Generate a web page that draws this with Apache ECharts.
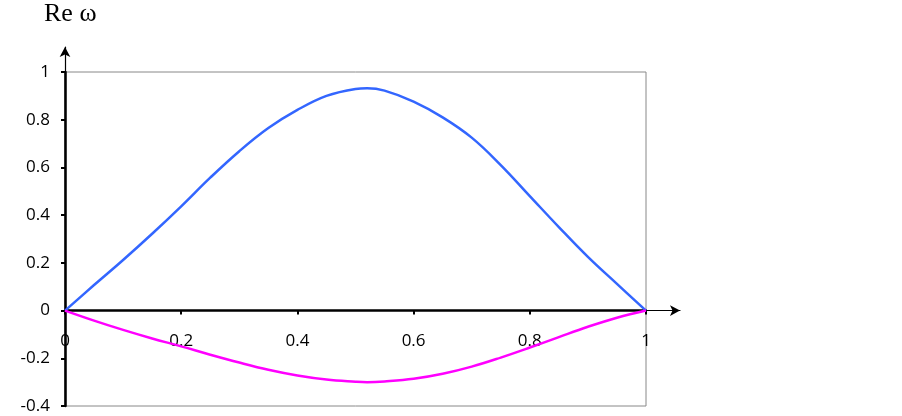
<!DOCTYPE html>
<html>
<head>
<meta charset="utf-8">
<script src="https://cdn.jsdelivr.net/npm/echarts@6/dist/echarts.min.js"></script>
<style>
html,body{margin:0;padding:0;background:#fff;}
#c{width:902px;height:416px;}
</style>
</head>
<body>
<div id="c"></div>
<script>
var xs = [0, 0.05, 0.1, 0.15, 0.2, 0.25, 0.3, 0.35, 0.4, 0.45, 0.5, 0.52, 0.55, 0.6, 0.65, 0.7, 0.75, 0.8, 0.85, 0.9, 0.95, 1];
var upperCurve = [0, 0.107, 0.212, 0.322, 0.437, 0.557, 0.668, 0.765, 0.841, 0.900, 0.929, 0.932, 0.922, 0.876, 0.810, 0.725, 0.610, 0.480, 0.350, 0.225, 0.112, 0];
var lowerCurve = [0, -0.042, -0.081, -0.117, -0.150, -0.185, -0.218, -0.248, -0.272, -0.289, -0.298, -0.300, -0.297, -0.286, -0.265, -0.235, -0.197, -0.155, -0.111, -0.068, -0.030, 0];
var xTicks = [0, 0.2, 0.4, 0.6, 0.8, 1];
var yTicks = [-0.4, -0.2, 0, 0.2, 0.4, 0.6, 0.8, 1];
var titleText = 'Re \u03C9';

function pairs(ys) { return xs.map(function (x, i) { return [x, ys[i]]; }); }

var labelFont = { fontFamily: 'Open Sans', fontSize: 17, color: '#000' };

var chart = echarts.init(document.getElementById('c'), null, { renderer: 'canvas' });
chart.setOption({
  animation: false,
  backgroundColor: '#fff',
  title: {
    text: titleText,
    left: 39,
    top: -4,
    textStyle: { fontFamily: 'Liberation Serif', fontSize: 26, fontWeight: 'normal', color: '#000' }
  },
  grid: [
    { left: 65, right: 256, top: 72, bottom: 10, show: true, borderColor: '#888', borderWidth: 1, backgroundColor: 'transparent', outerBoundsMode: 'none', containLabel: false },
    { left: 65, right: 222, top: 47, bottom: 10, show: false, outerBoundsMode: 'none', containLabel: false }
  ],
  xAxis: [
    {
      gridIndex: 0, type: 'value', min: xTicks[0], max: xTicks[xTicks.length - 1], interval: 0.2,
      position: 'bottom', offset: -95.4,
      axisLine: { show: true, onZero: false, lineStyle: { color: '#000', width: 2.5 } },
      axisTick: { show: true, length: 4, lineStyle: { color: '#000', width: 2 } },
      axisLabel: Object.assign({ margin: 22 }, labelFont),
      splitLine: { show: false }
    },
    {
      gridIndex: 1, type: 'value', min: 0, max: 1.0585,
      axisLine: { show: true, onZero: true, symbol: ['none', 'arrow'], symbolSize: [8, 10], lineStyle: { color: '#000', width: 1.2 } },
      axisTick: { show: false }, axisLabel: { show: false }, splitLine: { show: false }
    }
  ],
  yAxis: [
    {
      gridIndex: 0, type: 'value', min: yTicks[0], max: yTicks[yTicks.length - 1], interval: 0.2,
      axisLine: { show: true, onZero: false, lineStyle: { color: '#000', width: 2.5 } },
      axisTick: { show: true, length: 4, lineStyle: { color: '#000', width: 2 } },
      axisLabel: Object.assign({ margin: 15 }, labelFont),
      splitLine: { show: false }
    },
    {
      gridIndex: 1, type: 'value', min: -0.4, max: 1.105,
      axisLine: { show: true, onZero: true, symbol: ['none', 'arrow'], symbolSize: [8, 10], lineStyle: { color: '#000', width: 1.2 } },
      axisTick: { show: false }, axisLabel: { show: false }, splitLine: { show: false }
    }
  ],
  series: [
    {
      type: 'line', xAxisIndex: 0, yAxisIndex: 0, data: pairs(upperCurve), smooth: 0.4,
      showSymbol: false, lineStyle: { color: '#3366FF', width: 2.5 }, z: 5
    },
    {
      type: 'line', xAxisIndex: 0, yAxisIndex: 0, data: pairs(lowerCurve), smooth: 0.4,
      showSymbol: false, lineStyle: { color: '#FF00FF', width: 2.5 }, z: 5
    }
  ]
});
</script>
</body>
</html>
